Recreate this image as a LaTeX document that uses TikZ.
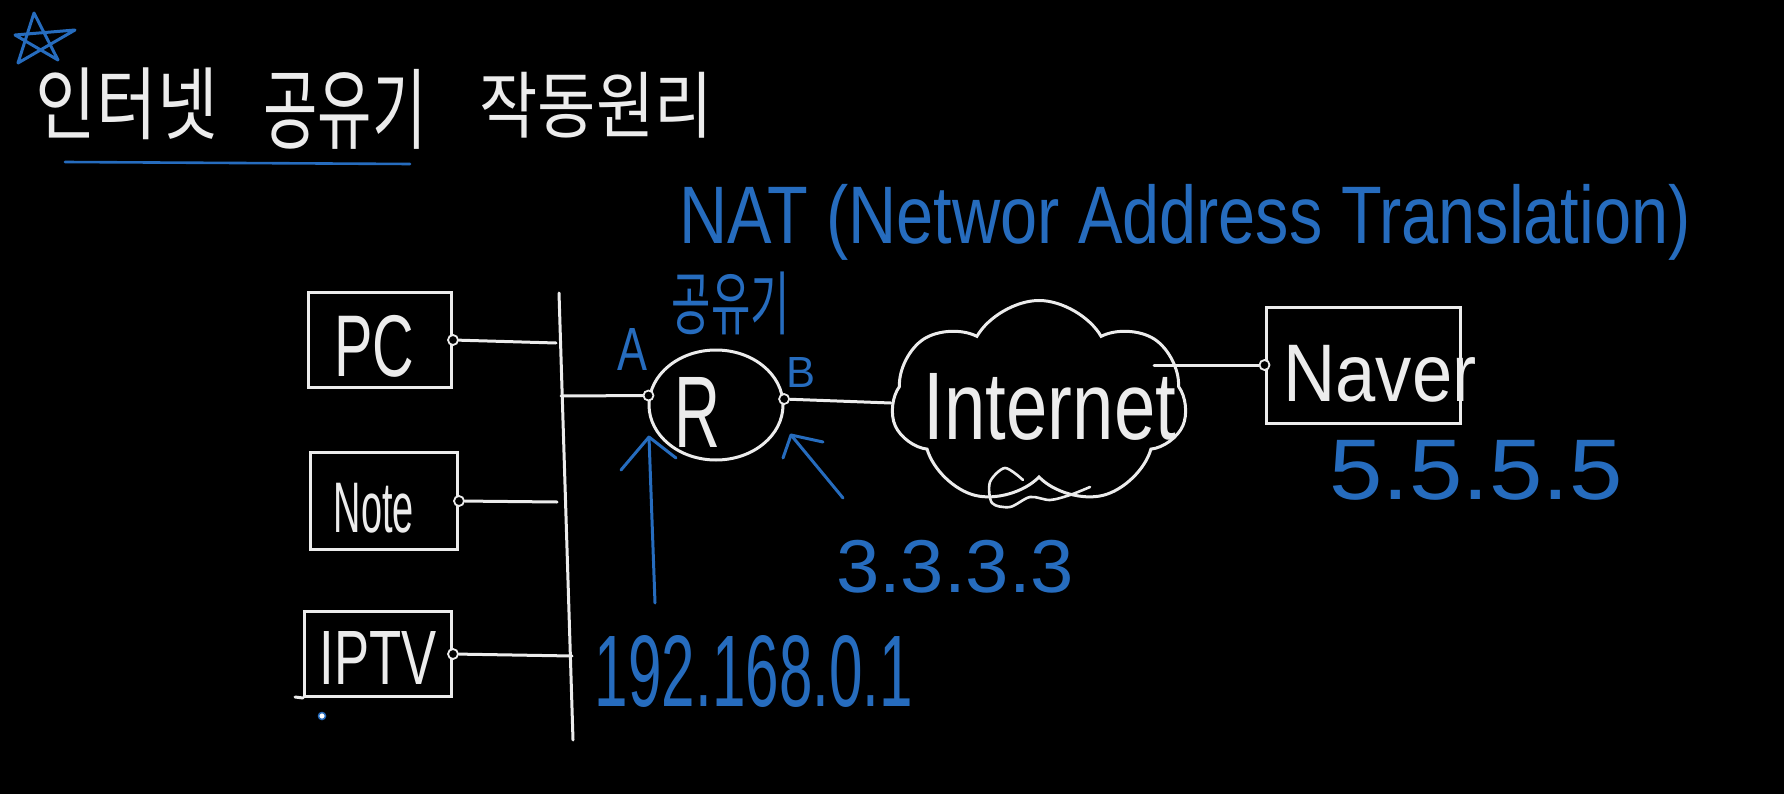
\documentclass[tikz,border=0pt]{standalone}
\usepackage{graphicx}
\usepackage{fontspec}
\setmainfont{Liberation Sans}
\newfontfamily\krfont{Noto Sans CJK KR}
\usetikzlibrary{shapes.symbols,shapes.geometric}
\definecolor{inkblue}{RGB}{38,108,190}
\definecolor{chalk}{RGB}{236,236,236}
\newcommand{\fitbox}[3]{\resizebox*{#1pt}{#2pt}{#3}}
\begin{document}
\begin{tikzpicture}[x=1pt,y=-1pt,
  wire/.style={draw=chalk, line width=3pt, line cap=round},
  devbox/.style={draw=chalk, line width=3pt, inner sep=0pt},
  port/.style={circle, draw=chalk, line width=1.8pt, inner sep=0pt, minimum size=10pt, fill=black},
  wlabel/.style={text=chalk, inner sep=0pt},
  blabel/.style={text=inkblue, inner sep=0pt},
  bink/.style={draw=inkblue, line width=3pt, line cap=round, line join=round}]
\fill[black] (0,0) rectangle (1784,794);
\useasboundingbox (0,0) rectangle (1784,794);

% star
\draw[bink] (18,63) -- (34,13) -- (58,60) -- (15,35) -- (75,30) -- cycle;

% title
\node[wlabel] (t1) at (127,104) {\fitbox{182}{72}{\krfont 인터넷}};
\node[wlabel] (t2) at (345,109) {\fitbox{163}{80}{\krfont 공유기}};
\node[wlabel] (t3) at (596,105) {\fitbox{233}{66}{\krfont 작동원리}};
\coordinate (ul1) at (65,162);
\coordinate (ul2) at (410,164);
\draw[bink, line width=2.6pt] (ul1) -- (ul2);

% NAT
\node[blabel] (nat) at (1185,222) {\fitbox{1011}{76}{NAT (Networ Address Translation)}};
\node[blabel] (gong) at (731,303) {\fitbox{118}{63}{\krfont 공유기}};

% devices
\node[devbox, minimum width=143pt, minimum height=95pt] (pc) at (380,340) {};
\node[wlabel] (pct) at (374,346) {\fitbox{80}{62}{PC}};
\node[devbox, minimum width=147pt, minimum height=97pt] (note) at (384,501) {};
\node[wlabel] (notet) at (374,508) {\fitbox{80}{50}{Note}};
\node[devbox, minimum width=147pt, minimum height=85pt] (iptv) at (378,654) {};
\node[wlabel] (iptvt) at (378,658) {\fitbox{117}{53}{IPTV}};
\coordinate (ipx) at (295,697);
\draw[wire] (ipx) -- (iptv.south west);
\node[circle, draw=inkblue, fill=white, line width=1.5pt, inner sep=0pt, minimum size=7pt] (dot) at (322,716) {};

\node[port] (pcp) at (pc.east) {};
\node[port] (notep) at (note.east) {};
\node[port] (iptvp) at (iptv.east) {};

% bus
\coordinate (busT) at (559,293);
\coordinate (busB) at (573,740);
\draw[wire] (busT) -- (busB);
\coordinate (j1) at (556,343);
\coordinate (j2) at (557,502);
\coordinate (j3) at (572,656);
\coordinate (j4) at (561,396);
\draw[wire] (pcp) -- (j1);
\draw[wire] (notep) -- (j2);
\draw[wire] (iptvp) -- (j3);

% router
\node[ellipse, draw=chalk, line width=3pt, minimum width=134pt, minimum height=110pt] (r) at (716,405) {};
\node[wlabel] (rt) at (697,412) {\fitbox{46}{70}{R}};
\node[port] (pa) at (r.172) {};
\node[port] (pb) at (r.5) {};
\draw[wire] (j4) -- (pa);
\node[blabel] (la) at (632,349) {\fitbox{30}{42}{A}};
\node[blabel] (lb) at (801,372) {\fitbox{29}{30}{B}};

% blue arrows
\coordinate (a1tail) at (655,603);
\coordinate (a1tip) at (649,437);
\coordinate (a1l) at (621,470);
\coordinate (a1r) at (676,458);
\draw[bink] (a1tail) -- (a1tip);
\draw[bink] (a1l) -- (a1tip) -- (a1r);
\coordinate (a2tail) at (843,498);
\coordinate (a2tip) at (791,435);
\coordinate (a2l) at (783,458);
\coordinate (a2r) at (823,442);
\draw[bink] (a2tail) -- (a2tip);
\draw[bink] (a2l) -- (a2tip) -- (a2r);

% internet
\node[cloud, draw=chalk, line width=3pt, cloud puffs=7, cloud puff arc=120, aspect=1.4, minimum width=295pt, minimum height=205pt, inner sep=0pt] (net) at (1039,403) {};
\node[wlabel] (nett) at (1050,407) {\fitbox{252}{67}{Internet}};
\draw[chalk, line width=2.6pt, line cap=round] plot[smooth] coordinates {(1023,480) (1005,468) (990,482) (992,503) (1010,507) (1030,497) (1050,500) (1070,495) (1090,487)};
\draw[wire] (pb) -- (net.west);

% naver
\node[devbox, minimum width=194pt, minimum height=116pt] (naver) at (1363,365) {};
\node[wlabel] (navert) at (1380,374) {\fitbox{193}{57}{Naver}};
\node[port] (np) at (naver.west) {};
\coordinate (nc) at (1154,365);
\draw[wire] (nc) -- (np);

% addresses
\node[blabel] (ip5) at (1476,470) {\fitbox{293}{60}{5.5.5.5}};
\node[blabel] (ip3) at (955,567) {\fitbox{238}{53}{3.3.3.3}};
\node[blabel] (ip192) at (754,671) {\fitbox{318}{72}{192.168.0.1}};
\end{tikzpicture}
\end{document}
